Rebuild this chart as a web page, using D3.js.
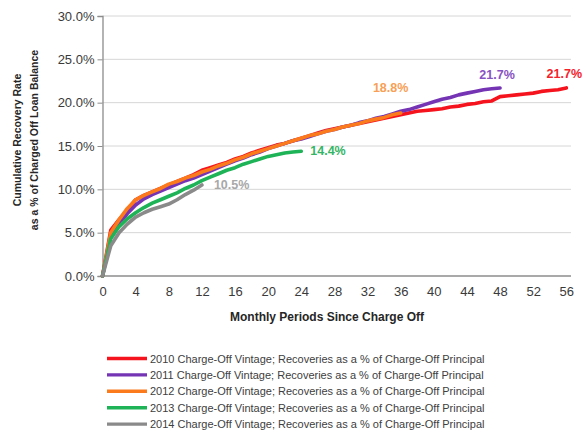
<!DOCTYPE html>
<html>
<head>
<meta charset="utf-8">
<script src="https://cdn.jsdelivr.net/npm/d3@7"></script>
<style>
  html, body { margin: 0; padding: 0; background: #fff; }
  svg { display: block; font-family: Arial, "Liberation Sans", sans-serif; }
</style>
</head>
<body>
<svg id="chart" width="587" height="433"></svg>
<script>
// Cumulative recovery rate (%) by monthly period since charge off, one array per vintage
const months = d3.range(0, 57);
const vintages = ["2010", "2011", "2012", "2013", "2014"];
const rec2010 = [0, 5.3, 6.5, 7.6, 8.8, 9.3, 9.7, 10.1, 10.5, 10.9, 11.3, 11.7, 12.2, 12.5, 12.8, 13.1,
  13.5, 13.8, 14.2, 14.5, 14.8, 15.1, 15.3, 15.6, 15.9, 16.2, 16.5, 16.8, 17.0, 17.2, 17.4, 17.6,
  17.8, 18.0, 18.2, 18.4, 18.6, 18.8, 19.0, 19.1, 19.2, 19.3, 19.5, 19.6, 19.8, 19.9, 20.1, 20.2,
  20.7, 20.8, 20.9, 21.0, 21.1, 21.3, 21.4, 21.5, 21.7];
const rec2011 = [0, 4.6, 6.0, 7.2, 8.2, 8.9, 9.4, 9.8, 10.2, 10.6, 11.0, 11.3, 11.7, 12.1, 12.5, 12.9,
  13.3, 13.6, 14.0, 14.3, 14.7, 15.0, 15.3, 15.6, 15.8, 16.1, 16.4, 16.7, 16.9, 17.2, 17.4, 17.7,
  17.9, 18.2, 18.4, 18.7, 19.0, 19.2, 19.5, 19.8, 20.1, 20.4, 20.6, 20.9, 21.1, 21.3, 21.5, 21.6, 21.7];
const rec2012 = [0, 5.0, 6.5, 7.8, 8.8, 9.3, 9.7, 10.1, 10.6, 10.9, 11.3, 11.6, 12.0, 12.3, 12.7, 13.0,
  13.4, 13.7, 14.1, 14.4, 14.7, 15.0, 15.3, 15.6, 15.9, 16.2, 16.4, 16.7, 16.9, 17.2, 17.4, 17.6,
  17.9, 18.1, 18.3, 18.6, 18.8];
const rec2013 = [0, 4.3, 5.7, 6.6, 7.3, 7.9, 8.4, 8.8, 9.2, 9.6, 10.1, 10.5, 11.0, 11.4, 11.8, 12.2,
  12.5, 12.9, 13.2, 13.5, 13.8, 14.0, 14.2, 14.3, 14.4];
const rec2014 = [0, 3.5, 5.0, 6.0, 6.8, 7.3, 7.7, 8.0, 8.3, 8.8, 9.4, 9.9, 10.5];
const seriesValues = [rec2010, rec2011, rec2012, rec2013, rec2014];
const endLabels = ["21.7%", "21.7%", "18.8%", "14.4%", "10.5%"];
const xTicks = d3.range(0, 57, 4);
const yTicks = [0, 5, 10, 15, 20, 25, 30];
const legendText = vintages.map(v => v + " Charge-Off Vintage; Recoveries as a % of Charge-Off Principal");
const xTitle = "Monthly Periods Since Charge Off";
const yTitle = ["Cumulative Recovery Rate", "as a % of Charged Off Loan Balance"];

const lineColors = ["#f5141e", "#7434b4", "#fb7a1c", "#1db356", "#8a8a8a"];
const labelColors = ["#f5222b", "#8852c4", "#f8a055", "#34b565", "#a8a8a8"];
// label anchor and offset relative to each line's last point
const labelStyle = [
  { anchor: "middle", dx: -2, dy: -10 },
  { anchor: "middle", dx: -3, dy: -9 },
  { anchor: "middle", dx: -10, dy: -21 },
  { anchor: "start", dx: 9, dy: 4 },
  { anchor: "start", dx: 12, dy: 4 }
];

const svg = d3.select("#chart");
const x = d3.scaleLinear().domain([0, 56]).range([102.5, 566.3]);
const y = d3.scaleLinear().domain([0, 30]).range([276, 16]);

// horizontal gridlines
svg.append("g").selectAll("line")
  .data(yTicks.filter(t => t > 0))
  .join("line")
  .attr("x1", x(0)).attr("x2", 571)
  .attr("y1", d => y(d)).attr("y2", d => y(d))
  .attr("stroke", "#d6d6d6").attr("stroke-width", 1);

// y axis
const yAxis = svg.append("g")
  .attr("transform", `translate(${x(0)},0)`)
  .call(d3.axisLeft(y).tickValues(yTicks).tickFormat(d => d.toFixed(1) + "%").tickSize(5).tickPadding(3));
yAxis.select(".domain").attr("stroke", "#8c8c8c").attr("stroke-width", 1.3);
yAxis.selectAll(".tick line").attr("stroke", "#8c8c8c");
yAxis.selectAll("text").attr("fill", "#3a3a3a").attr("font-size", 13);

// x axis
const xAxis = svg.append("g")
  .attr("transform", `translate(0,${y(0)})`)
  .call(d3.axisBottom(x).tickValues(xTicks).tickFormat(d3.format("d")).tickSize(0).tickPadding(11));
xAxis.select(".domain").attr("d", `M${x(0)},0H571`).attr("stroke", "#8c8c8c").attr("stroke-width", 1.3);
xAxis.selectAll("text").attr("fill", "#3a3a3a").attr("font-size", 13);

// axis titles
svg.append("text")
  .attr("x", 327).attr("y", 321)
  .attr("text-anchor", "middle")
  .attr("font-size", 12).attr("font-weight", "bold").attr("fill", "#262626")
  .text(xTitle);

yTitle.forEach((t, i) => {
  svg.append("text")
    .attr("transform", `translate(${21 + i * 16.5},140) rotate(-90)`)
    .attr("text-anchor", "middle")
    .attr("font-size", 10.5).attr("font-weight", "bold").attr("fill", "#262626")
    .text(t);
});

// recovery curves
const line = d3.line()
  .x((d, i) => x(months[i]))
  .y(d => y(d));

svg.append("g").selectAll("path")
  .data(seriesValues)
  .join("path")
  .attr("d", d => line(d))
  .attr("fill", "none")
  .attr("stroke", (d, i) => lineColors[i])
  .attr("stroke-width", 3.6)
  .attr("stroke-linejoin", "round")
  .attr("stroke-linecap", "round");

// end-of-line value labels
svg.append("g").selectAll("text")
  .data(seriesValues)
  .join("text")
  .attr("x", (d, i) => x(months[d.length - 1]) + labelStyle[i].dx)
  .attr("y", (d, i) => y(d[d.length - 1]) + labelStyle[i].dy)
  .attr("text-anchor", (d, i) => labelStyle[i].anchor)
  .attr("font-size", 12.5).attr("font-weight", "bold")
  .attr("fill", (d, i) => labelColors[i])
  .text((d, i) => endLabels[i]);

// legend
const legend = svg.append("g").selectAll("g")
  .data(vintages)
  .join("g")
  .attr("transform", (d, i) => `translate(0,${358.5 + i * 16.4})`);
legend.append("line")
  .attr("x1", 107).attr("x2", 147)
  .attr("stroke", (d, i) => lineColors[i])
  .attr("stroke-width", 3.4);
legend.append("text")
  .attr("x", 150).attr("y", 4)
  .attr("font-size", 11).attr("fill", "#404040")
  .text((d, i) => legendText[i]);
</script>
</body>
</html>
